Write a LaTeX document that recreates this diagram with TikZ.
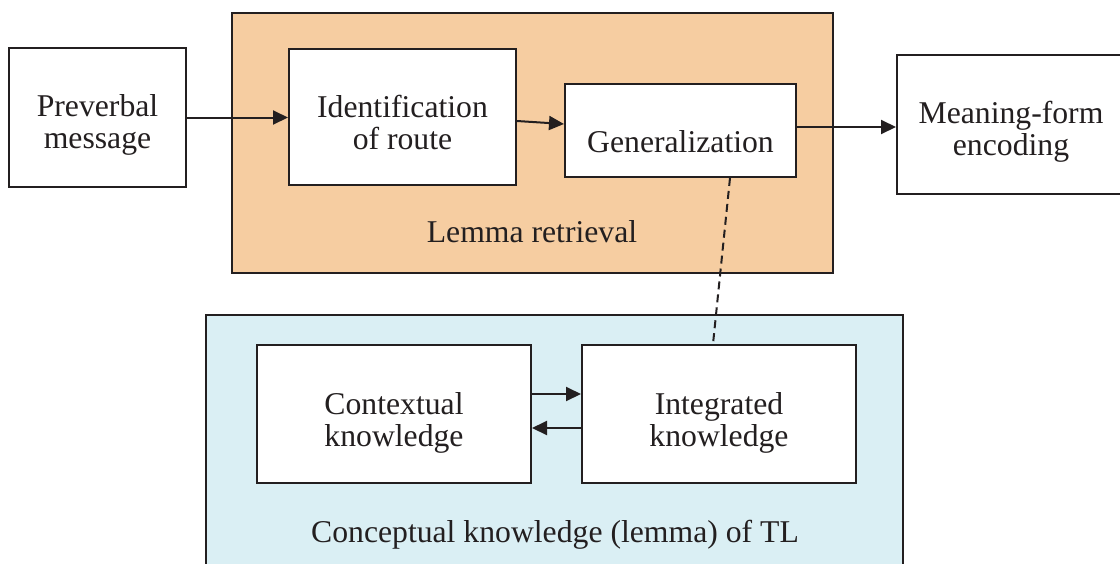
\documentclass[tikz,border=0pt]{standalone}
\usepackage{fontspec}
\setmainfont{Liberation Serif}
\usetikzlibrary{arrows.meta,calc}
\definecolor{inkline}{HTML}{231F20}
\definecolor{lemmafill}{HTML}{F6CDA1}
\definecolor{conceptfill}{HTML}{DAEFF4}
% centred lines whose first baseline sits #1 below the node centre
\newcommand\boxlines[2][0pt]{\raisebox{-#1}[0pt][0pt]{\begin{tabular}[t]{@{}c@{}}#2\end{tabular}}}
\begin{document}
\begin{tikzpicture}[x=1pt,y=-1pt,
  every node/.style={font=\fontsize{31.7}{32}\selectfont, text=inkline},
  blk/.style={draw=inkline, line width=2pt, fill=white, inner sep=0pt},
  area/.style={draw=inkline, line width=2pt, inner sep=0pt},
  flow/.style={draw=inkline, line width=2pt, -{Triangle[length=15pt,width=14pt]}},
  link/.style={draw=inkline, line width=2pt, dash pattern=on 8pt off 5pt}]
\useasboundingbox (0,0) rectangle (1120,563);
\clip (0,0) rectangle (1120,563);

% group panels
\node[area, fill=lemmafill, minimum width=601pt, minimum height=260pt] (lemma) at (532.5,143) {};
\node[area, fill=conceptfill, minimum width=697pt, minimum height=280pt] (concept) at (554.5,455) {};
\node[anchor=base] (lemmalabel) at (532,242) {Lemma retrieval};
\node[anchor=base] (conceptlabel) at (555,542) {Conceptual knowledge (lemma) of TL};

% processing blocks
\node[blk, minimum width=177pt, minimum height=139pt] (pre) at (97.5,117.5) {\boxlines[-1.5pt]{Preverbal\\message}};
\node[blk, minimum width=227pt, minimum height=136pt] (id) at (402.5,117) {\boxlines{Identification\\of route}};
\node[blk, minimum width=231pt, minimum height=93pt] (gen) at (680.5,130.5) {\boxlines[21.5pt]{Generalization}};
\node[blk, minimum width=228pt, minimum height=139pt] (mf) at (1011,124.5) {\boxlines[-1pt]{Meaning-form\\encoding}};
\node[blk, minimum width=274pt, minimum height=138pt] (ctx) at (394,414) {\boxlines{Contextual\\knowledge}};
\node[blk, minimum width=274pt, minimum height=138pt] (int) at (719,414) {\boxlines{Integrated\\knowledge}};

% connectors
\draw[flow] (pre.east) -- (pre.east -| id.west);
\draw[flow] ([yshift=-4pt]id.east) -- ([yshift=6.5pt]gen.west);
\draw[flow] ([yshift=3.5pt]gen.east) -- ([yshift=3.5pt]gen.east -| mf.west);
\draw[flow] ([yshift=20pt]ctx.east) -- ([yshift=20pt]int.west);
\draw[flow] ([yshift=-14pt]int.west) -- ([yshift=-14pt]ctx.east);
\draw[link] ([xshift=49.5pt]gen.south) -- ([xshift=-6pt]int.north);
\end{tikzpicture}
\end{document}
